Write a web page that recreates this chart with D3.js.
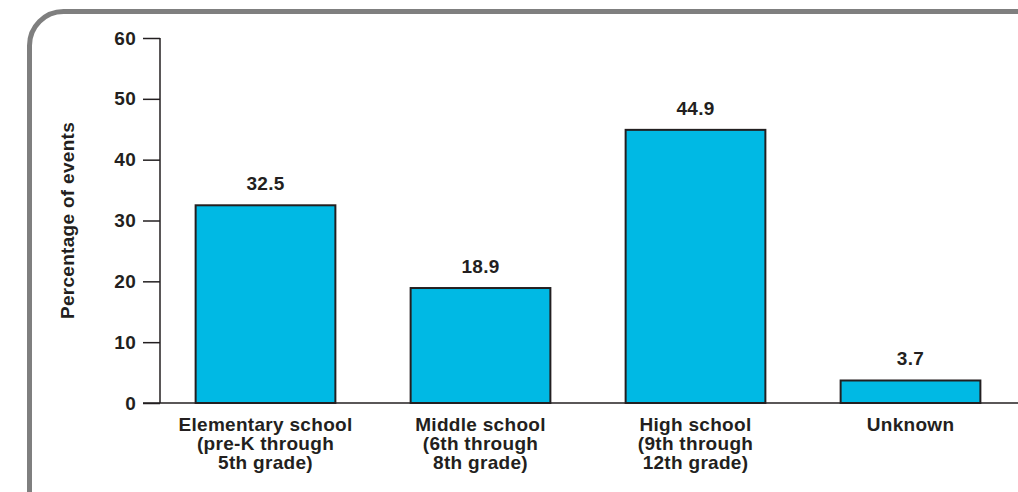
<!DOCTYPE html>
<html>
<head>
<meta charset="utf-8">
<script src="https://cdn.jsdelivr.net/npm/d3@7"></script>
<style>
  html, body { margin: 0; padding: 0; background: #fff; }
  svg { display: block; }
  text { font-family: "Liberation Sans", Arial, Helvetica, sans-serif; font-weight: bold; fill: #231f20; letter-spacing: 0.3px; }
</style>
</head>
<body>
<svg id="chart" width="1018" height="492"></svg>
<script>
// chart data
const categories = ['elem', 'middle', 'high', 'unknown'];
const catLabels = [
  ['Elementary school', '(pre-K through', '5th grade)'],
  ['Middle school', '(6th through', '8th grade)'],
  ['High school', '(9th through', '12th grade)'],
  ['Unknown']
];
const values = [32.5, 18.9, 44.9, 3.7];
const yTicks = [0, 10, 20, 30, 40, 50, 60];
const yTitle = 'Percentage of events';

const ink = '#231f20';
const fs = 19;
const svg = d3.select('#chart');

// frame: rounded panel running off the right and bottom edges
svg.append('rect')
  .attr('x', 29.5).attr('y', 11.5)
  .attr('width', 1200).attr('height', 700)
  .attr('rx', 34).attr('ry', 34)
  .attr('fill', 'none')
  .attr('stroke', '#7f7f7f')
  .attr('stroke-width', 5);

const y = d3.scaleLinear().domain([0, 60]).range([403, 38]);
const x = d3.scaleBand()
  .domain(categories)
  .range([158, 1018])
  .paddingInner(0.35)
  .paddingOuter(0.175);

// y axis
const yAxis = svg.append('g')
  .attr('transform', 'translate(160,0)')
  .call(d3.axisLeft(y).tickValues(yTicks).tickSize(17).tickPadding(7));
yAxis.select('.domain').remove();
yAxis.selectAll('.tick line').attr('stroke', ink).attr('stroke-width', 1.5);
yAxis.selectAll('.tick text')
  .attr('font-size', fs)
  .attr('font-family', null)
  .style('fill', ink);

svg.append('line')
  .attr('x1', 160).attr('x2', 160)
  .attr('y1', y(60)).attr('y2', y(0))
  .attr('stroke', ink).attr('stroke-width', 1.5);

// baseline
svg.append('line')
  .attr('x1', 143).attr('x2', 1018)
  .attr('y1', y(0)).attr('y2', y(0))
  .attr('stroke', ink).attr('stroke-width', 1.5);

// y title
svg.append('text')
  .attr('transform', `translate(74,${(y(0) + y(60)) / 2}) rotate(-90)`)
  .attr('text-anchor', 'middle')
  .attr('font-size', fs)
  .text(yTitle);

// bars
svg.append('g').selectAll('rect')
  .data(values)
  .join('rect')
  .attr('x', (d, i) => x(categories[i]))
  .attr('y', d => y(d))
  .attr('width', x.bandwidth())
  .attr('height', d => y(0) - y(d))
  .attr('fill', '#00b9e4')
  .attr('stroke', ink)
  .attr('stroke-width', 2);

// value labels
svg.append('g').selectAll('text')
  .data(values)
  .join('text')
  .attr('x', (d, i) => x(categories[i]) + x.bandwidth() / 2)
  .attr('y', d => y(d) - 15)
  .attr('text-anchor', 'middle')
  .attr('font-size', fs)
  .text(d => d.toFixed(1));

// category labels
categories.forEach((c, i) => {
  const t = svg.append('text')
    .attr('text-anchor', 'middle')
    .attr('font-size', fs);
  catLabels[i].forEach((line, j) => {
    t.append('tspan')
      .attr('x', x(c) + x.bandwidth() / 2)
      .attr('y', y(0) + 28 + j * 19)
      .text(line);
  });
});
</script>
</body>
</html>
